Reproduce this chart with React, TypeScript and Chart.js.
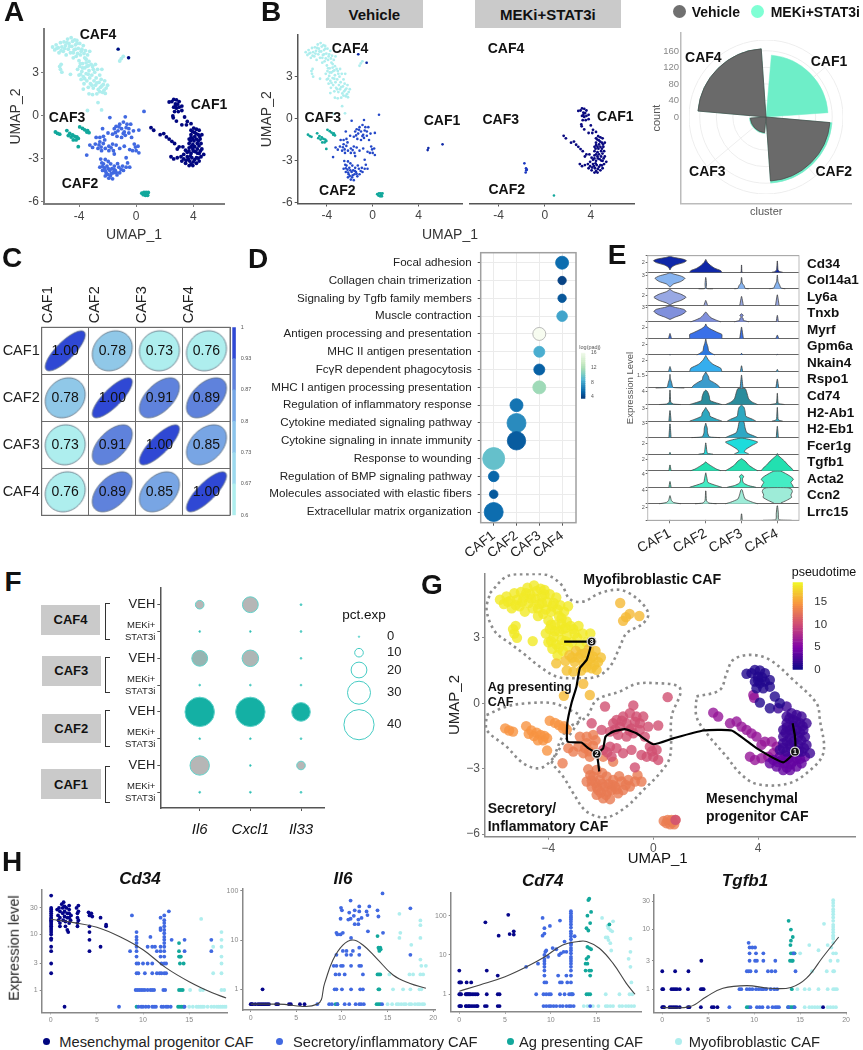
import React, { useEffect, useRef } from "react";
import { Chart, registerables } from "chart.js";
Chart.register(...registerables);

const FONT = '"Liberation Sans", Arial, sans-serif';
Chart.defaults.font.family = FONT;

type P = number[];
const col = (x: number, ys: number[]): P[] => ys.map((y) => [x, y]);
const row = (y: number, xs: number[]): P[] => xs.map((x) => [x, y]);
const xy = (a: P[]) => a.map((p) => ({ x: p[0], y: p[1] }));
const shift = (a: P[], dx: number, dy: number): P[] => a.map((p) => [p[0] + dx, p[1] + dy]);

const caf4Late: P[] = [[-5.85,4.75],[-5.7,4.55],[-5.6,4.9],[-5.45,4.7],[-5.4,4.35],[-5.3,5.05],[-5.2,4.75],[-5.1,4.45],[-5.05,5.1],[-4.95,4.85],[-4.9,4.2],[-4.8,5.3],[-4.75,4.6],[-4.7,5.0],[-4.6,4.35],[-4.55,5.4],[-4.5,4.8],[-4.45,5.15],[-4.4,4.0],[-4.35,4.55],[-4.3,5.25],[-4.25,4.9],[-4.15,5.0],[-4.1,4.3],[-4.05,4.65],[-4.0,3.8],[-3.95,5.0],[-3.9,4.2],[-3.8,4.6],[-3.75,3.6],[-3.7,4.85],[-3.6,4.0],[-3.55,4.5],[-3.45,3.4],[-3.4,4.2],[-3.3,3.75],[-3.25,4.45],[-5.35,3.4],[-5.3,3.2],[-5.2,3.0],[-5.25,3.55],[-4.6,2.85],[-4.1,3.2],[-4.0,2.8],[-3.95,3.4],[-3.85,2.5],[-3.8,3.05],[-3.7,2.7],[-3.65,2.2],[-3.6,3.3],[-3.5,2.9],[-3.45,2.4],[-3.3,3.1],[-3.25,2.6],[-3.1,2.8],[-3.05,3.4],[-2.9,3.0],[-2.8,2.6],[-2.7,3.2],[-2.55,2.8],[-2.4,3.2],[-3.15,3.55],[-2.85,3.55],[-3.5,3.65],[-5.55,4.65],[-5.25,4.5],[-5.0,4.65],[-4.85,5.05],[-4.65,4.8],[-4.4,4.35],[-4.25,4.6],[-4.2,4.1],[-4.15,5.2],[-3.85,4.45],[-3.65,4.3],[-3.5,3.9],[-3.9,3.6],[-3.75,3.3],[-3.35,3.45],[-3.35,2.85],[-3.0,3.2],[-3.6,2.55],[-3.9,2.85]];
const caf4Low: P[] = [[-3.35,1.95],[-3.7,1.83],[-3.2,2.2],[-3.3,1.5],[-3.0,1.9],[-2.95,2.4],[-2.85,2.1],[-2.65,1.8],[-2.6,2.3],[-2.5,1.95],[-2.45,2.5],[-2.35,1.6],[-2.3,2.15],[-2.25,1.75],[-2.2,2.4],[-2.16,1.53],[-2.1,1.9],[-2.0,2.1],[-3.05,1.45],[-2.75,1.5],[-3.1,2.1],[-2.75,2.25],[-2.4,2.05],[-2.55,1.65]];
const caf4Sparse: P[] = [[-2.67,0.89],[-2.42,0.38],[-3.41,0.34],[-1.15,3.78],[-1.04,3.95],[-0.9,4.1],[-1.26,4.6],[-0.53,4.0]];
const caf3Main: P[] = [[-5.65,-1.15],[-5.5,-1.25],[-5.35,-1.3],[-4.85,-1.05],[-4.75,-1.4],[-4.65,-1.25],[-4.55,-1.5],[-4.45,-1.35],[-4.4,-1.7],[-4.3,-1.45],[-4.2,-1.7],[-4.15,-1.5],[-4.05,-1.6],[-3.95,-0.8],[-3.75,-0.9],[-3.6,-1.0],[-3.45,-1.15],[-3.3,-1.2],[-3.4,-1.05],[-4.05,-2.17]];
const caf3Bottom: P[] = [[0.4,-5.4],[0.5,-5.5],[0.55,-5.35],[0.65,-5.55],[0.75,-5.45],[0.85,-5.35],[0.8,-5.55],[0.7,-5.35]];
const caf3Treated: P[] = [[0.8,-5.5]];
const caf2Upper: P[] = [[-1.84,-0.15],[-0.76,-0.1],[-2.35,-0.92],[-1.4,-0.76],[-1.15,-0.61],[-0.89,-0.46],[-0.64,-0.61],[-0.51,-0.92],[-1.02,-0.92],[-1.27,-1.07],[-1.53,-0.92],[-0.38,-0.61],[-1.97,-1.22],[-1.65,-1.3],[-1.34,-1.45],[-1.02,-1.53],[-0.76,-1.38],[-0.51,-1.22],[-0.19,-1.07],[0.19,-1.02],[-0.83,-1.15],[-0.32,-1.53],[-0.13,-1.99],[0.13,-2.14],[0,-2.45],[-0.25,-2.45],[-0.45,-2.37],[0.19,-2.6],[-0.83,-2.14],[-1.15,-2.29],[-1.4,-2.06],[-1.65,-1.99],[-1.91,-2.14],[-1.59,-2.45],[-0.7,-2.94],[0.55,0.28],[-0.7,-0.85],[-1.2,-0.8],[-0.9,-1.25],[-1.45,-1.2],[-0.05,-2.2],[-1.75,-2.25]];
const caf2Mid: P[] = [[-2.54,-1.53],[-2.8,-1.53],[-2.54,-1.83],[-2.29,-1.45],[-2.86,-1.99],[-3.24,-2.06],[-3.05,-2.22],[-2.67,-2.29],[-2.42,-2.45],[-2.16,-2.29],[-1.91,-2.45],[-3.46,-2.75],[-2.3,-1.95],[-2.6,-2.05],[-2.45,-2.2],[-2.2,-1.7]];
const caf2Lower: P[] = [[-2.48,-3.03],[-2.16,-3.06],[-2.54,-3.59],[-2.29,-3.36],[-2.04,-3.52],[-1.78,-3.36],[-1.53,-3.52],[-2.35,-3.82],[-2.1,-3.98],[-1.84,-3.82],[-1.59,-3.98],[-1.91,-4.36],[-1.65,-4.4],[-2.16,-4.2],[-1.34,-4.13],[-1.21,-3.59],[-0.95,-3.52],[-0.7,-3.59],[-0.45,-3.59],[-0.89,-3.82],[-1.15,-3.98],[-1.46,-3.82],[-1.53,-2.68],[-2.4,-3.3],[-2.2,-3.65],[-1.95,-3.2],[-1.7,-3.7],[-1.3,-3.35],[-1.05,-3.75],[-0.6,-3.3],[-2.0,-4.1],[-1.8,-4.2],[-2.35,-3.55],[-2.15,-3.85],[-1.95,-3.7],[-1.75,-4.05],[-1.55,-3.75],[-1.4,-3.95]];
const caf2Treated: P[] = [[-1.76,-3.2],[-1.62,-3.55],[-1.6,-3.7],[-1.65,-3.85],[-1.55,-3.65]];
const caf1Top: P[] = [[3.56,1.35],[3.75,1.38],[3.88,1.53],[4.07,1.5],[4.26,1.38],[4.0,1.22],[3.88,0.99],[4.07,0.92],[4.26,0.99],[4.45,1.07],[3.94,0.69],[4.2,0.69],[4.45,0.76],[4.07,0.03],[4.45,-0.23],[4.64,0.31],[4.83,0],[4.0,1.05],[4.15,1.2]];
const caf1Right: P[] = [[4.77,-0.23],[5.09,-0.15],[5.28,-0.46],[5.47,-0.54],[5.66,-0.61],[5.09,-0.61],[5.34,-0.76],[5.6,-0.92],[5.85,-0.92],[5.09,-0.92],[4.96,-1.22],[5.22,-1.22],[5.47,-1.22],[5.73,-1.22],[4.96,-1.53],[5.22,-1.6],[5.53,-1.53],[5.79,-1.53],[4.96,-1.83],[5.22,-1.91],[5.53,-1.91],[5.85,-1.91],[4.83,-2.14],[5.09,-2.22],[5.66,-2.22],[5.98,-2.29],[5.3,-1.35],[5.4,-2.1],[5.65,-1.7],[5.1,-1.75],[5.2,-0.7],[5.45,-0.85],[5.7,-1.05],[5.1,-1.1],[5.35,-1.05],[5.6,-1.35],[5.05,-1.35],[5.35,-1.75],[5.75,-2.05],[4.95,-2.05],[5.25,-2.05],[5.55,-2.2]];
const caf1Low: P[] = [[4.83,-2.45],[5.15,-2.52],[5.47,-2.52],[5.79,-2.45],[4.58,-2.6],[4.71,-2.9],[4.96,-3.06],[5.22,-3.06],[5.47,-2.9],[5.66,-2.75],[4.45,-2.75],[5.0,-2.75],[5.25,-2.8],[4.9,-2.6],[5.1,-2.95],[5.35,-2.65],[5.6,-2.55],[4.75,-2.7],[5.05,-2.4]];
const caf1Arm: P[] = [[2.29,-0.43],[2.48,-0.61],[2.93,-0.92],[3.18,-0.84],[3.37,-1.07],[3.56,-1.22],[3.75,-1.38],[3.94,-1.53],[4.26,-1.76],[4.52,-1.76],[4.13,-1.91],[3.69,-2.45],[3.88,-2.6],[4.13,-2.52],[4.39,-2.45],[4.58,-2.29],[4.71,-1.99],[3.82,0.38],[3.85,0.25]];
const caf1Vehicle: P[] = [[4.86,-2.1],[4.8,-2.25],[6.1,-1.84]];
const caf1All = [...caf1Top, ...caf1Right, ...caf1Low, ...caf1Arm];
const caf4All = [...caf4Late, ...caf4Low, ...caf4Sparse];
const caf3All = [...caf3Main, ...caf3Bottom];
const caf2All = [...caf2Upper, ...caf2Mid, ...caf2Lower];

const hullMyo: P[] = [[-6.23,5.05],[-5.6,5.81],[-4.83,5.92],[-4.07,5.89],[-3.5,5.43],[-3.18,4.77],[-2.67,4.66],[-2.04,5.05],[-1.27,5.2],[-0.64,4.82],[-0.19,4.13],[-0.38,3.67],[-1.02,3.21],[-1.27,2.6],[-1.65,1.68],[-2.16,1.22],[-3.05,1.15],[-3.69,1.22],[-4.33,1.68],[-4.96,2.29],[-5.47,2.75],[-6.04,3.29],[-6.36,4.28],[-6.23,5.05]];
const hullAg: P[] = [[-6.36,-0.54],[-5.6,-0.15],[-4.83,0],[-3.82,0],[-3.18,-0.31],[-2.8,-0.61],[-3.05,-1.22],[-3.44,-1.83],[-3.82,-2.52],[-4.33,-2.98],[-4.96,-2.75],[-5.6,-1.99],[-6.36,-1.22],[-6.36,-0.54]];
const hullSec: P[] = [[-3.88,-2.75],[-3.31,-1.22],[-2.54,-0.61],[-2.16,0.15],[-1.27,0.54],[-0.64,0.89],[0.13,0.92],[0.95,0.79],[1.04,0.46],[0.7,-0.61],[0.64,-2.45],[0.25,-3.21],[-0.38,-3.98],[-1.02,-4.74],[-1.78,-5.23],[-2.54,-4.97],[-3.05,-4.13],[-3.44,-3.36],[-3.88,-2.75]];
const hullMes: P[] = [[1.65,0.31],[2.54,0.61],[2.8,1.38],[3.05,1.99],[3.69,2.22],[4.45,1.99],[5.34,1.07],[6.23,0],[6.36,-0.76],[6.49,-2.29],[5.85,-3.21],[5.09,-3.7],[3.94,-3.7],[3.31,-3.21],[2.8,-2.45],[2.04,-1.38],[1.65,-0.61],[1.65,0.31]];
const trajectoryA: P[] = [[-3.4,2.83],[-2.35,2.83]];
const trajectoryB: P[] = [[-2.35,2.83],[-2.42,2.45],[-2.54,1.99],[-2.8,1.61],[-2.93,0.76],[-3.12,0],[-3.28,-0.92],[-3.27,-1.76],[-2.74,-1.8],[-2.48,-2.06],[-2.16,-2.32],[-2.06,-3.13]];
const trajectoryC: P[] = [[-2.16,-2.32],[-1.91,-2.06],[-1.82,-1.53],[-1.53,-1.3],[-1.08,-1.19],[-0.64,-1.38],[0,-1.88],[0.76,-1.61],[1.91,-1.25],[2.99,-1.25],[3.94,-2.06],[4.96,-2.71],[5.41,-2.22],[5.41,-1.53],[5.32,-0.92]];
const trajectoryNodes: P[] = [[5.41,-2.22],[-2.16,-2.32],[-2.35,2.83]];
const nodeNames = ["1", "2", "3"];

/* ---------- polar counts ---------- */
const polarClusters = ["CAF1", "", "CAF2", "", "CAF3", "", "CAF4", ""];
const vehicleCount = [0, 0, 155, 0, 38, 0, 165, 0];
const treatedCount = [150, 0, 5, 0, 2, 0, 0, 0];

/* ---------- correlation ---------- */
const cafNames = ["CAF1", "CAF2", "CAF3", "CAF4"];
const corrCAF1 = [1.0, 0.78, 0.73, 0.76];
const corrCAF2 = [0.78, 1.0, 0.91, 0.89];
const corrCAF3 = [0.73, 0.91, 1.0, 0.85];
const corrCAF4 = [0.76, 0.89, 0.85, 1.0];
const corrTicks = [0.6, 0.6667, 0.7333, 0.8, 0.8667, 0.9333, 1];
const corrTickNames = ["0.6", "0.67", "0.73", "0.8", "0.87", "0.93", "1"];
const corrBandColors = ["#aeeeee", "#9cd9ee", "#8cc4ec", "#76a6e6", "#5f82dc", "#2f48d4"];

/* ---------- pathway dot plot ---------- */
const pathways = ["Focal adhesion","Collagen chain trimerization","Signaling by Tgfb family members","Muscle contraction","Antigen processing and presentation","MHC II antigen presentation","FcγR dependent phagocytosis","MHC I antigen processing presentation","Regulation of inflammatory response","Cytokine mediated signaling pathway","Cytokine signaling in innate immunity","Response to wounding","Regulation of BMP signaling pathway","Molecules associated with elastic fibers","Extracellular matrix organization"];
const pathwayCluster = [4,4,4,4,3,3,3,3,2,2,2,1,1,1,1];
const pathwayCount = [13,8.4,8.4,10.6,13,11,11,13,13,19,18.4,22,10.6,8.6,19];
const pathwayLogP = [5.3,3.6,4.4,7.6,16,8,4.8,11,5.6,6.6,4.6,9,5,4.5,5.3];
const gnbu = ["#084081","#0868ac","#2b8cbe","#4eb3d3","#7bccc4","#a8ddb5","#ccebc5","#e0f3db","#f7fcf0"];

/* ---------- violin profiles: [height in row, half width] ---------- */
const genes = ["Cd34","Col14a1","Ly6a","Tnxb","Myrf","Gpm6a","Nkain4","Rspo1","Cd74","H2-Ab1","H2-Eb1","Fcer1g","Tgfb1","Acta2","Ccn2","Lrrc15"];
const geneColors = ["#0f27a8","#87b4f0","#98a8e4","#8090dc","#3a70e8","#2c78e0","#35aeee","#3c9ccc","#2a8c9c","#2ca8c0","#30a8c4","#1ddcdc","#22e0b0","#44ecc4","#9eecd8","#a8d8c8"];
const exprTickNames = ["2","3","2","3","2","2","2","1.5","4","3","3","2","2","4","4","2"];
const exprTickPos = [0.58,0.8,0.62,0.85,0.64,0.64,0.64,0.77,0.79,0.75,0.85,0.66,0.7,0.8,0.79,0.79];
const violinCd34 = [[[0.14,0],[0.3,0.04],[0.45,0.15],[0.6,0.38],[0.72,0.46],[0.82,0.36],[0.92,0.12],[1,0]],[[0,0.45],[0.1,0.42],[0.25,0.25],[0.45,0.12],[0.6,0.05],[0.8,0]],[[0,0.03],[0.02,0.01],[0.45,0.003]],[[0,0.15],[0.05,0.06],[0.15,0.02],[0.7,0.003]]];
const violinCol14a1 = [[[0.1,0],[0.3,0.1],[0.45,0.3],[0.65,0.42],[0.8,0.3],[0.92,0.1],[1,0]],[[0,0.2],[0.02,0.02],[0.3,0.02],[0.7,0.004]],[[0,0.2],[0.03,0.1],[0.2,0.07],[0.35,0.02],[0.7,0.004]],[[0,0.22],[0.05,0.1],[0.2,0.07],[0.45,0.02],[0.85,0.003]]];
const violinLy6a = [[[0.02,0],[0.15,0.1],[0.3,0.3],[0.5,0.45],[0.7,0.3],[0.85,0.1],[1,0]],[[0,0.05],[0.3,0.004]],[[0,0.05],[0.55,0.004]],[[0,0.05],[0.65,0.004]]];
const violinTnxb = [[[0.15,0],[0.3,0.15],[0.45,0.33],[0.65,0.45],[0.78,0.38],[0.9,0.15],[1,0]],[[0,0.42],[0.1,0.3],[0.25,0.15],[0.4,0.08],[0.6,0.01]],[[0,0.2],[0.1,0.05],[0.2,0.05],[0.3,0.005],[0.4,0.05],[0.5,0.005]],[[0,0.03],[0.4,0.004]]];
const violinMyrf = [[[0,0.04],[0.3,0.004]],[[0,0.45],[0.25,0.45],[0.35,0.35],[0.6,0.12],[0.75,0.03],[0.9,0]],[[0,0.05],[0.7,0.003]],[[0,0.04],[0.2,0.004]]];
const violinGpm6a = [[[0,0.02],[0.03,0.002]],[[0,0.25],[0.08,0.18],[0.25,0.08],[0.5,0.06],[0.7,0.03],[1,0]],[[0,0.03],[0.1,0.003]],[[0,0.02],[0.03,0.002]]];
const violinNkain4 = [[[0,0.04],[0.3,0.004]],[[0,0.45],[0.2,0.42],[0.45,0.2],[0.7,0.08],[1,0]],[[0,0.03],[0.35,0.004]],[[0,0.03],[0.12,0.004]]];
const violinRspo1 = [[[0,0.4],[0.03,0.1],[0.1,0.07],[0.3,0.05],[0.6,0.01],[0.85,0]],[[0,0.4],[0.15,0.35],[0.35,0.22],[0.5,0.1],[0.7,0.08],[1,0]],[[0,0.04],[0.8,0.003]],[[0,0.04],[0.55,0.004]]];
const violinCd74 = [[[0,0.3],[0.03,0.1],[0.1,0.05],[0.15,0.02],[0.9,0.003]],[[0,0.45],[0.1,0.3],[0.25,0.12],[0.5,0.1],[0.8,0.05],[0.9,0]],[[0,0.45],[0.15,0.3],[0.35,0.2],[0.8,0.14],[1,0.1]],[[0,0.2],[0.05,0.06],[0.1,0.02],[0.7,0.003]]];
const violinH2Ab1 = [[[0,0.03],[0.65,0.004]],[[0,0.45],[0.12,0.3],[0.3,0.12],[0.5,0.1],[0.7,0.04],[0.85,0]],[[0,0.4],[0.12,0.3],[0.3,0.12],[0.6,0.1],[0.85,0.07],[1,0]],[[0,0.15],[0.05,0.05],[0.15,0.02],[0.85,0.003]]];
const violinH2Eb1 = [[[0,0.03],[0.85,0.004]],[[0,0.4],[0.05,0.1],[0.3,0.05],[0.6,0.04],[0.9,0]],[[0,0.45],[0.1,0.35],[0.3,0.15],[0.6,0.1],[1,0.06]],[[0,0.03],[0.7,0.003]]];
const violinFcer1g = [[[0,0.02],[0.1,0.005]],[[0,0.2],[0.05,0.05],[0.2,0.03],[0.7,0.003]],[[0.02,0.2],[0.15,0.08],[0.3,0.12],[0.55,0.3],[0.75,0.45],[0.9,0.25],[1,0.03]],[[0,0.02],[0.03,0.002]]];
const violinTgfb1 = [[[0,0.03],[0.35,0.004]],[[0,0.42],[0.1,0.3],[0.3,0.15],[0.45,0.05],[0.55,0]],[[0,0.45],[0.15,0.33],[0.35,0.2],[0.6,0.1],[0.75,0]],[[0,0.45],[0.15,0.4],[0.35,0.3],[0.6,0.2],[0.9,0.05],[1,0]]];
const violinActa2 = [[[0,0.03],[0.35,0.004]],[[0,0.45],[0.1,0.3],[0.3,0.06],[0.6,0.03],[0.9,0]],[[0,0.4],[0.1,0.2],[0.25,0.06],[0.4,0.03],[0.55,0.03],[0.65,0.06],[0.75,0.03],[0.8,0]],[[0,0.45],[0.15,0.42],[0.3,0.38],[0.5,0.45],[0.7,0.35],[1,0.1]]];
const violinCcn2 = [[[0,0.3],[0.08,0.1],[0.2,0.04],[0.5,0.005]],[[0,0.3],[0.05,0.08],[0.2,0.02],[0.8,0.004]],[[0,0.45],[0.1,0.3],[0.3,0.1],[0.6,0.05],[0.85,0.02],[0.9,0]],[[0.05,0.1],[0.2,0.25],[0.4,0.4],[0.55,0.38],[0.75,0.42],[0.9,0.4],[1,0.3]]];
const violinLrrc15 = [[[0,0.01],[0.02,0.002]],[[0,0.01],[0.02,0.002]],[[0,0.02],[0.4,0.004]],[[0,0.4],[0.03,0.05],[0.15,0.03],[0.4,0.03],[0.9,0.006]]];
const violins = [violinCd34,violinCol14a1,violinLy6a,violinTnxb,violinMyrf,violinGpm6a,violinNkain4,violinRspo1,violinCd74,violinH2Ab1,violinH2Eb1,violinFcer1g,violinTgfb1,violinActa2,violinCcn2,violinLrrc15];

/* ---------- cytokine dot plot ---------- */
const fGenes = ["Il6", "Cxcl1", "Il33"];
const fRows = ["VEH", ["MEKi+", "STAT3i"], "VEH", ["MEKi+", "STAT3i"], "VEH", ["MEKi+", "STAT3i"], "VEH", ["MEKi+", "STAT3i"]];
const il6Pct = [10, 0.5, 20, 0.5, 39, 0.5, 25, 0.7];
const cxcl1Pct = [20, 0.5, 21, 0.5, 39, 0.5, 0.5, 0.7];
const il33Pct = [0.7, 0.5, 0.5, 0.5, 24, 0.5, 10, 0.7];
const il6Level = [0, 1, 0.2, 1, 1, 1, 0, 1];
const cxcl1Level = [0, 1, 0.05, 1, 1, 1, 1, 1];
const il33Level = [1, 1, 1, 1, 1, 1, 0, 1];
const pctLegend = [0, 10, 20, 30, 40];
const pctLegendRow = [0, 16, 33.3, 56, 88];

/* ---------- gene vs pseudotime ---------- */
const cd34Curve: P[] = [[0,18.7],[2.5,16.3],[5,13.5],[7.5,9.1],[10,5.3],[12.5,2.5],[15,1.41],[17.5,0.89],[19,0.72]];
const il6Curve: P[] = [[0,0.5],[3,0.5],[7.3,0.5],[8.1,1.32],[9,3.9],[10.1,7.9],[11.2,10],[12.3,7.9],[13.8,4.25],[15.6,1.95],[17.4,1.32],[19.2,1.05]];
const cd74Curve: P[] = [[0,1.2],[2.25,1.73],[5,2.8],[7.35,5],[9.35,9],[11.3,18],[13,22],[13.9,22],[15.3,14.8],[16.8,6.1],[18.25,1.9],[19.2,1]];
const tgfb1Curve: P[] = [[0,0.49],[3,0.51],[4.8,0.75],[6.6,1.04],[9.2,1.15],[11.7,1.04],[14,1.07],[15.7,1.53],[17.5,3.5],[19.2,7.5]];

const cd34Mes: P[] = [...col(0.05,[50,30,28,26,24,22,20,19,18,17,16,15,14,13,12,11,10,8.5,8,6,5,3,2]),[0.7,28],[0.8,22],[0.85,18],[0.9,30],[1,26],[1,20],[1,16],[1,14],[1.2,35],[1.3,30],[1.3,24],[1.35,18],[1.4,38],[1.5,32],[1.5,26],[1.5,21],[1.6,17],[1.6,14],[1.7,30],[1.8,24],[1.8,20],[1.8,12],[1.9,11],[2,33],[2,28],[2,24],[2,20],[2,16],[2.15,18],[2.2,22],[2.8,30],[2.9,24],[2.9,20],[2.9,16],[2.9,14],[3,33],[3,26],[3,18],[4.1,25],[4.2,22],[4.2,14],[4.2,11],[4.2,8],[4.2,5],[4.4,24],[4.5,21],[5.4,20],[5.4,6],[6,15],[6,14],[1.5,0.5]];
const cd34Sec: P[] = [[8.8,22],[8.6,5],[7.4,0.5],...col(9.3,[11,9,8,7,6,5,4]),...row(3,[9.3,9.5,10,10.5,11,12,12.3,12.5]),...row(2,[9.3,9.5,10.2,11,11.5,11.8,12,12.3,12.5]),...row(1,[9.2,9.4,9.6,9.8,10,10.2,10.5,10.8,11,11.2,12.2,12.4]),...row(0.5,[9.5,9.8,10,10.3,10.6,11,11.2,11.4,12,12.2,12.5,12.7,13,14.5]),...col(12.3,[22,18,16,14,12,10.5,9,8,7,6,5,4]),...col(11.9,[20,13,12,6,5,4]),[12.8,26],[13.1,8],[10.8,9],[10.5,6],[11,6],[11.3,6],[11.5,5],[14.5,8],[14.5,5],[17.4,8],[17.4,5]];
const cd34Ag: P[] = [[13.9,7],[13.9,5],[13.9,4],[14,4],[14.1,4],[14,3],[14.4,3],[13.9,1],[14.1,1],[14.3,1],[13.8,0.5],[14,0.5],[14.2,0.5],[14.4,0.5],[9.3,0.5]];
const cd34Myo: P[] = [[16.3,19],[17.6,6],[18.5,11],[18.5,8],[18.5,6],[18.5,4],[18.5,3],[17.6,2],[18.5,2],[15.1,1],[16.2,1],[16.5,1],[18.5,1],[18.8,1],...row(0.5,[15,15.4,15.8,16,16.2,16.4,16.6,17,17.4,17.7,18,18.2,18.4,18.6,18.8,19])];

const il6Mes: P[] = [[1.3,1],...row(0.5,[0,0.1,0.2,0.5,0.8,1,1.2,1.4,1.6,1.8,2,2.8,3,4.2,4.4,5.4,5.9])];
const il6Sec: P[] = [[14.45,88],[10.95,63],[9.9,45],[10,40],[10.8,36],[11.4,40],[11.9,48],[13,48],[12.7,38],[12.8,32],[13.9,40],[14,30],[11.9,38],[11.3,31],[10.95,27],[9.85,27],[10.7,26],[12.15,28],[11.8,26],[11.4,21],[11.8,21],[9.4,14],[9.5,13],[9.85,13],[10.1,14],[11,11],[12.85,15],[14.5,14],[11.9,7],[10.1,6],[10.5,6],[11.2,6],[9.4,5],[10.5,5],[11,5],[11.9,5],[17.5,44],[17.5,5],...row(3,[9.1,9.4,9.9,10.1,11,11.9,12.1]),...row(2,[9.3,9.7,10.3,12.3]),...row(1,[9.2,9.4,10,11,12,12.3]),...row(0.5,[7.3,8.6,8.9,9.5,10.3,10.8,11.5,11.9,12.1,12.4,14.4])];
const il6Ag: P[] = [[13.9,12],[14,7],[14.1,6.5],[14.2,7],[14.1,6],[14.25,6.5],[14.05,2],[14.2,2],[13.9,2],[14,1],[14.1,1],[13.8,0.5],[14,0.5],[14.2,0.5],[9.3,0.5],[9.5,0.5]];
const il6Myo: P[] = [[16.3,34],[16.4,14],[16.3,11],[18.6,25],[18.6,20],[18.6,11],[17.6,8],[18.6,4],[18.7,3],[19.2,3],[15.2,2],[17.4,2],[17.8,2],[18.6,2],[18.9,2],[15.6,1],[16.7,1],[17.5,1],[18.5,1],[18.7,1],...row(0.5,[15,15.5,16,16.2,16.5,16.8,17,17.4,17.6,18,18.3,18.5,18.8,19])];

const cd74Mes: P[] = [[5.35,105],[2.85,68],[5.5,34],[5.95,40],[5.95,33],[4.3,31],[0,4],[3,4],[4.2,3],...row(2,[0,0.1,0.2,0.8,1.3]),...row(1,[0,0.1,0.2,0.7,0.8,0.9,1,1.1,1.2,1.4,1.6,1.8,2,3,4.2,4.4]),...row(0.5,[0,0.1,0.2,0.7,0.8,1,1.1,1.3,1.5,1.7,1.9,2,2.8,3,4.2,4.4])];
const cd74Sec: P[] = [[7.3,5],[8.6,6],[9.1,88],[9.3,48],[9.3,35],[9.1,31],[9.9,55],[11,75],[11.5,22],[9.3,10],[9.4,12],[9.5,13],[9.7,9],[10.2,15],[10.6,14],[10.9,10],[11.1,11],[11.4,12],[11.7,12],[12.6,30],...col(12.2,[130,115,100,90,80,70,60,50,40,35,30,25,20,18,15,13,11,9,8,7,6,5,4,3,2]),...col(9.3,[8,7,6,5,4,3,2]),[9.5,2],[10.8,3],[11,2],[11.2,2],[11.7,3],[11.8,2],...row(1,[8.4,9.2,9.5,9.8,10,11,11.5,12,12.2,12.4]),...row(0.5,[9.2,9.5,9.8,10,10.3,10.6,11,11.3,11.7,12,12.2,12.5,14.3])];
const cd74Ag: P[] = [[14.2,270],[14.1,250],[14.4,125],[14,100],[14.3,65],[16.4,60],[13.9,48],[14.1,42],[14,16],[14.2,15],[14.4,14],[14.1,9],[13.9,8],[13.8,6],[14,6],[13.8,4],[14.2,4],[14.3,3],[14.4,4],[12.3,1],[13.9,1],[14.1,1],[14.3,1]];
const cd74Myo: P[] = [[15.6,88],[16.8,72],[16.2,55],[16.3,48],[16.5,43],[16.7,40],[16,28],[16.2,28],[16.3,24],[16.5,20],[16.6,13],[18.7,26],[18.7,12],[18.5,8],[18.7,5],[18.8,2],[16,1],[17.5,1],[18.6,1],[18.9,1],...row(0.5,[13.6,14,14.6,15.2,16,16.2,16.5,16.8,17.5,17.8,18.2,18.5,18.8,19.1])];

const tgfb1Mes: P[] = [[0,2],[1.4,2],[2.85,2],[4.25,3],...row(1,[0,0.1,1,1.2,1.4,1.6,1.9,2.8,4.2,4.35,4.5]),...row(0.5,[0,0.1,0.2,0.8,1,1.2,1.4,1.6,1.9,2.8,2.95,4.2,5.4,5.6,6,17.5])];
const tgfb1Sec: P[] = [[9.4,6],[9.5,5],[9.8,5],[10.1,5],[9.5,4],[10.2,4],[11,4],[14.3,4],[14.5,2],...row(3,[9.5,10.1,10.3,11,12.3]),...row(2,[9.2,9.4,9.6,10.2,11.5,11.9,12.3]),...row(1,[8.4,8.6,9.2,9.5,9.8,10.2,10.5,10.8,11,11.3,11.8,12.2,12.5]),...row(0.5,[7.3,9.6,10.3,10.6,10.9,11.5,12,12.3,12.5,12.7,13.7,14.4])];
const tgfb1Ag: P[] = [[13.75,14],[14,10],[14.2,7.5],[14,6.5],[13.95,5.5],[14,4],[14.2,4],[14.4,4],[13.9,3],[14.1,3],[14.2,3],[14.1,1],[13.7,0.5],[13.9,0.5],[14.1,0.5],[14.3,0.5],[9.2,0.5],[9.4,0.5]];
const tgfb1Myo: P[] = [[17.6,12.5],[16,5.5],[17,4.5],[18,5.5],...col(18.6,[31,28,25,22,20,18,16,14,12,11,10,9,8,7.5,7,6,4,2,1]),[18.4,5],[18.9,4],[15,4],[19.1,3],[18.3,3],[16.3,2],[17.9,2],[18.7,2],[14.7,1],[15.5,1],[16,1],[17,1],[18,1],[18.8,1],[19,1],...row(0.5,[15.5,16,16.3,16.6,16.9,17.2,18,18.3,18.6,18.9])];

/* ---------- colours ---------- */
const C1 = "#00067f", C2 = "#4169e1", C3 = "#12a89c", C4 = "#afeeee";
const stops = (list: string[], f: number) => {
  const p = Math.max(0, Math.min(1, f)) * (list.length - 1);
  const i = Math.min(list.length - 2, Math.floor(p));
  const a = list[i], b = list[i + 1], t = p - i;
  const ch = (s: string, k: number) => parseInt(s.slice(1 + k * 2, 3 + k * 2), 16);
  return "#" + [0, 1, 2].map((k) => Math.round(ch(a, k) * (1 - t) + ch(b, k) * t).toString(16).padStart(2, "0")).join("");
};
const plasmaStops = ["#0d0887","#7e03a8","#cc4778","#f89540","#f0f921"];
const plasma = (t: number) => stops(plasmaStops, t / 19.3);
const withAlpha = (hex: string, al: number) => hex + Math.round(al * 255).toString(16).padStart(2, "0");

/* ---------- helpers ---------- */
type R = { l: number; t: number; r: number; b: number };
function ax(pos: string, o: any = {}) {
  const s: any = {
    type: o.type || "linear", position: o.pos || pos, min: o.min, max: o.max, reverse: !!o.rev, offset: !!o.offset,
    display: o.display !== false,
    afterBuildTicks: o.at ? (sc: any) => { sc.ticks = o.at.map((v: number) => ({ value: v })); } : undefined,
    border: { display: (o.bw ?? 1) > 0, color: o.bc || "#666", width: o.bw ?? 1 },
    grid: { display: true, drawOnChartArea: !!o.gridOn, drawTicks: (o.tl ?? 3) > 0, tickLength: o.tl ?? 3, color: o.gridColor || o.bc || "#666", tickColor: o.bc || "#666", lineWidth: o.gridW ?? 1, offset: !!o.gridOffset },
    ticks: { display: o.noLabels ? false : true, autoSkip: false, maxRotation: o.rot || 0, minRotation: o.rot || 0, includeBounds: false, font: o.font || { family: FONT, size: o.fs || 11, weight: o.fw, style: o.fstyle }, color: o.tc || "#555", padding: o.pad ?? 2, callback: o.cb || ((v: any) => String(v)) },
    title: o.title ? { display: true, text: o.title, font: { family: FONT, size: o.tfs || 13 }, color: o.ttc || "#222", padding: 0 } : { display: false },
  };
  if (o.labels) s.labels = o.labels;
  return s;
}
const textPlugin = {
  id: "pointText",
  afterDatasetsDraw(chart: any) {
    const { ctx } = chart;
    chart.data.datasets.forEach((d: any, i: number) => {
      if (!d.texts) return;
      chart.getDatasetMeta(i).data.forEach((el: any, j: number) => {
        ctx.save();
        ctx.font = d.textFont; ctx.fillStyle = d.textColor; ctx.textAlign = "center"; ctx.textBaseline = "middle";
        ctx.fillText(d.texts[j], el.x, el.y + 0.5);
        ctx.restore();
      });
    });
  },
};
const framePlugin = {
  id: "frame",
  afterDraw(chart: any, _a: any, o: any) {
    if (!o || !o.color) return;
    const { ctx, chartArea: c } = chart;
    ctx.save(); ctx.strokeStyle = o.color; ctx.lineWidth = o.width || 1;
    ctx.strokeRect(c.left, c.top, c.right - c.left, c.bottom - c.top);
    ctx.restore();
  },
};
const SIDE_ROOM = 28;
function mk(type: string, rect0: R, plot: R, datasets: any[], scales: any, frame?: any, labels?: any[]) {
  const rect = { ...rect0 };
  const taken: any = {};
  Object.values(scales).forEach((s: any) => { if (s.display !== false) taken[s.position] = true; });
  if (!taken.left) rect.l = Math.min(rect.l, plot.l - SIDE_ROOM);
  if (!taken.right) rect.r = Math.max(rect.r, plot.r + SIDE_ROOM);
  if (!taken.top) rect.t = Math.min(rect.t, plot.t - SIDE_ROOM);
  if (!taken.bottom) rect.b = Math.max(rect.b, plot.b + SIDE_ROOM);
  rect.l = Math.round(rect.l); rect.t = Math.round(rect.t); rect.r = Math.round(rect.r); rect.b = Math.round(rect.b);
  const side: any = { left: plot.l - rect.l, right: rect.r - plot.r, top: plot.t - rect.t, bottom: rect.b - plot.b };
  const pad: any = { ...side };
  Object.values(scales).forEach((s: any) => {
    if (s.display === false) return;
    const size = side[s.position];
    pad[s.position] = 0;
    s.afterFit = (sc: any) => { if (s.position === "left" || s.position === "right") sc.width = size; else sc.height = size; };
  });
  return {
    rect,
    cfg: {
      type,
      data: { labels, datasets },
      plugins: [textPlugin, framePlugin],
      options: {
        responsive: false, animation: false, maintainAspectRatio: false,
        layout: { autoPadding: false, padding: pad },
        plugins: { legend: { display: false }, tooltip: { enabled: false }, frame },
        scales,
      },
    },
  };
}
const dots = (a: P[], color: string, r: number) => ({ data: xy(a), backgroundColor: color, borderWidth: 0, pointRadius: r, pointHoverRadius: r });
const line = (a: P[], color: string, w: number, tension = 0, dash?: number[]) => ({ data: xy(a), showLine: true, borderColor: color, backgroundColor: color, borderWidth: w, pointRadius: 0, tension, borderDash: dash, fill: false });

function colorBar(rect: R, plot: R, edges: number[], colors: string[], at: number[], cb: any, fs: number, tc: string) {
  const ds = colors.map((c, i) => ({ data: [[edges[i], edges[i + 1]]], backgroundColor: c, borderColor: c, borderWidth: 0, barPercentage: 1, categoryPercentage: 1, grouped: false }));
  return mk("bar", rect, plot, ds, {
    x: ax("bottom", { type: "category", display: false, tl: 0 }),
    y: ax("right", { min: edges[0], max: edges[edges.length - 1], at, cb, fs, tc, bw: 0, tl: 0, pad: 2 }),
  }, undefined, [""]);
}

function ellipseImage(value: number, color: string) {
  const c = document.createElement("canvas");
  c.width = 44; c.height = 44;
  const g = c.getContext("2d")!;
  const shape = Math.max(0, (value - 0.72) / 0.28) * 0.8;
  const d = Math.acos(shape);
  g.beginPath();
  for (let k = 0; k <= 72; k++) {
    const a = (k / 72) * Math.PI * 2;
    const px = 22 + 20 * Math.cos(a + d / 2);
    const py = 22 - 20 * Math.cos(a - d / 2);
    k ? g.lineTo(px, py) : g.moveTo(px, py);
  }
  g.closePath(); g.fillStyle = color; g.fill(); g.strokeStyle = "#5a6a78"; g.lineWidth = 0.8; g.stroke();
  return c;
}
const corrColor = (v: number) => v >= 0.93 ? "#2f48d4" : v >= 0.87 ? "#5f82dc" : v >= 0.8 ? "#78a5e4" : v >= 0.77 ? "#90c8e8" : "#aeeeee";

function hPanel(plot: R, xMin: number, xMax: number, yMin: number, yMax: number, yAt: number[], xAt: number[], curve: P[], mes: P[], sec: P[], ag: P[], myo: P[]) {
  const rect = { l: plot.l - 24, r: plot.r, t: plot.t, b: plot.b + 16 };
  return mk("scatter", rect, plot, [
    line(curve, "#444", 1.1, 0.4),
    dots(mes, "#05058a", 1.9), dots(sec, C2, 1.9), dots(ag, C3, 1.9), dots(myo, C4, 1.9),
  ], {
    x: ax("bottom", { min: xMin, max: xMax, at: xAt, fs: 7, tc: "#888", bc: "#888", bw: 1.5, tl: 2, pad: 2 }),
    y: ax("left", { type: "logarithmic", min: yMin, max: yMax, at: yAt, fs: 7, tc: "#888", bc: "#888", bw: 1.5, tl: 2, pad: 2 }),
  });
}

function buildPanels() {
  const panels: any[] = [];
  const umapAxisA = { bc: "#7d7d7d", bw: 2, tl: 3, tc: "#444", fs: 12, pad: 2 };

  /* A */
  panels.push(mk("scatter", { l: 8, t: 20, r: 228, b: 244 }, { l: 44, t: 29, r: 224, b: 204 }, [
    dots(caf4Sparse.slice(6), C1, 1.7),
    dots(shift(caf1All, -1.25, -0.42), C1, 1.9), dots(caf2All, C2, 1.9), dots(caf3All, C3, 1.9), dots(caf4All, C4, 1.9),
  ], {
    x: ax("bottom", { ...umapAxisA, min: -6.45, max: 6.15, at: [-4, 0, 4], title: "UMAP_1", tfs: 14, ttc: "#333" }),
    y: ax("left", { ...umapAxisA, min: -6.15, max: 6.0, at: [-6, -3, 0, 3], title: "UMAP_2", tfs: 14, ttc: "#333" }),
  }));

  /* B vehicle */
  const umapAxisB = { bc: "#555", bw: 1.5, tl: 3, tc: "#444", fs: 12, pad: 2 };
  panels.push(mk("scatter", { l: 259, t: 28, r: 463, b: 224 }, { l: 297.7, t: 35, r: 462, b: 203.5 }, [
    dots(caf4Sparse.slice(6), "#101ea0", 1.3), dots(caf1Vehicle, "#102aa8", 1.3), dots(caf2All, "#2448c8", 1.3), dots(caf3All, C3, 1.4), dots(caf4All, C4, 1.4),
  ], {
    x: ax("bottom", { ...umapAxisB, min: -6.55, max: 7.8, at: [-4, 0, 4] }),
    y: ax("left", { ...umapAxisB, min: -6.07, max: 5.98, at: [-6, -3, 0, 3], title: "UMAP_2", tfs: 14, ttc: "#333" }),
  }));

  /* B treated */
  panels.push(mk("scatter", { l: 470, t: 28, r: 636, b: 224 }, { l: 470, t: 35, r: 634, b: 203.5 }, [
    dots(shift(caf1All, -0.65, -0.8), "#0a0a80", 1.4), dots(caf2Treated, "#1c38c0", 1.3), dots(caf3Treated, C3, 1.3),
  ], {
    x: ax("bottom", { ...umapAxisB, min: -6.47, max: 7.73, at: [-4, 0, 4] }),
    y: ax("left", { display: false, min: -6.07, max: 5.98, tl: 0 }),
  }));

  /* polar axes */
  panels.push(mk("scatter", { l: 650, t: 25, r: 860, b: 219 }, { l: 681, t: 33, r: 851.5, b: 203.3 }, [], {
    x: ax("bottom", { min: 0, max: 1, at: [], bc: "#bbb", bw: 1.5, tl: 0, noLabels: true, title: "cluster", tfs: 11, ttc: "#555" }),
    y: ax("left", { min: -208, max: 204, at: [0, 40, 80, 120, 160], bc: "#bbb", bw: 1.5, tl: 0, fs: 9.5, tc: "#888", pad: 2, title: "count", tfs: 11, ttc: "#555" }),
  }));
  /* polar */
  const sectorAngles = [81, 9, 81, 9, 81, 9, 81, 9];
  const ringScale = {
    type: "radialLinear", min: 0, max: 186, startAngle: 5,
    ticks: { display: false, stepSize: 40 },
    pointLabels: { display: false },
    grid: { circular: true, color: "#eeeeee" },
    angleLines: { display: true, color: (c: any) => (c.index % 2 ? "#eeeeee" : "rgba(0,0,0,0)") },
  };
  panels.push({
    rect: { l: 689, t: 40, r: 843, b: 194 },
    cfg: {
      type: "polarArea",
      data: {
        labels: polarClusters,
        datasets: [
          { data: vehicleCount, backgroundColor: "#6a6a6a", borderColor: "#4c4c4c", borderWidth: 0.8, angle: sectorAngles },
          { data: vehicleCount.map((v, i) => v + treatedCount[i]), backgroundColor: "#6eeec8", borderColor: "#6eeec8", borderWidth: 0.5, angle: sectorAngles },
        ],
      },
      options: {
        responsive: false, animation: false,
        layout: { autoPadding: false, padding: 0 },
        plugins: { legend: { display: false }, tooltip: { enabled: false } },
        scales: { r: ringScale },
      },
    },
  });

  /* C */
  const corrRows = [corrCAF1, corrCAF2, corrCAF3, corrCAF4];
  const corrData: any[] = [], corrText: string[] = [], corrImg: any[] = [];
  corrRows.forEach((vals, r) => vals.forEach((v, c) => {
    corrData.push({ x: cafNames[c], y: cafNames[r] });
    corrText.push(v.toFixed(2));
    corrImg.push(ellipseImage(v, corrColor(v)));
  }));
  const catAx = { type: "category", labels: cafNames, offset: true, gridOffset: true, gridOn: true, bc: "#6c6c6c", gridColor: "#6c6c6c", tl: 0, fs: 14.5, tc: "#222", pad: 4, bw: 1, cb: (_v: any, i: number) => cafNames[i] };
  panels.push(mk("scatter", { l: 0, t: 270, r: 232, b: 517 }, { l: 41.7, t: 327.3, r: 230, b: 515.3 }, [
    { data: corrData, pointStyle: corrImg, pointRadius: 21, borderWidth: 0, backgroundColor: "#fff", texts: corrText, textFont: `14px ${FONT}`, textColor: "#111" },
  ], {
    x: ax("top", { ...catAx, rot: 90 }),
    y: ax("left", { ...catAx, pad: 2 }),
  }, { color: "#6c6c6c", width: 1 }));
  /* C colour bar */
  panels.push(colorBar({ l: 232, t: 322, r: 262, b: 520 }, { l: 232.3, t: 327.3, r: 238.7, b: 515.3 }, corrTicks, corrBandColors, corrTicks, (v: number) => corrTickNames[corrTicks.indexOf(v)], 5.5, "#555"));

  /* D */
  const dData = pathways.map((_, i) => ({ x: pathwayCluster[i], y: i + 1, r: pathwayCount[i] / 2 }));
  const dColors = pathwayLogP.map((v) => stops(gnbu, (v - 3.5) / 12.5));
  panels.push(mk("bubble", { l: 252, t: 250, r: 578, b: 556 }, { l: 480.7, t: 252.7, r: 576, b: 522.7 }, [
    { data: dData, backgroundColor: dColors, borderColor: dColors.map((c, i) => (pathwayLogP[i] > 14 ? "#aaa" : c)), borderWidth: 0.8 },
  ], {
    x: ax("bottom", { min: 0.43, max: 4.61, at: [1, 2, 3, 4], cb: (v: number) => cafNames[v - 1], rot: 38, fs: 13.5, tc: "#222", bc: "#888", bw: 0, tl: 3, pad: 2, gridOn: true, gridColor: "#ebebeb" }),
    y: ax("left", { min: 0.438, max: 15.6, rev: true, at: pathways.map((_, i) => i + 1), cb: (v: number) => pathways[v - 1], fs: 11.6, tc: "#222", bc: "#888", bw: 0, tl: 3, pad: 6, gridOn: true, gridColor: "#ebebeb" }),
  }, { color: "#a0a0a0", width: 1.5 }));
  (panels[panels.length - 1].cfg.options.scales.x.grid as any).tickColor = "#555";
  (panels[panels.length - 1].cfg.options.scales.y.grid as any).tickColor = "#555";
  /* D colour bar */
  const dEdges = Array.from({ length: 25 }, (_, i) => 3.5 + (i * 12.5) / 24);
  panels.push(colorBar({ l: 578, t: 350, r: 600, b: 402 }, { l: 581, t: 352.7, r: 589, b: 398.7 }, dEdges, dEdges.slice(0, 24).map((e) => stops(gnbu, (e - 3.5) / 12.5)), [4, 8, 12, 16], undefined, 5, "#555"));

  /* E */
  const vDs: any[] = [];
  violins.forEach((gene, g) => gene.forEach((profile, c) => {
    const base = 15 - g;
    const right = profile.map((p) => [c + 1 + p[1], base + p[0] * 0.97]);
    const left = profile.slice().reverse().map((p) => [c + 1 - p[1], base + p[0] * 0.97]);
    vDs.push({ data: xy([...right, ...left]), showLine: true, tension: 0.18, fill: "shape", backgroundColor: geneColors[g], borderColor: "#444", borderWidth: 0.8, pointRadius: 0 });
  }));
  const rowEdges = Array.from({ length: 17 }, (_, i) => i);
  const exprAt = exprTickPos.map((p, i) => 15 - i + p);
  panels.push(mk("scatter", { l: 625, t: 250, r: 863, b: 552 }, { l: 647.7, t: 255.7, r: 799, b: 520.3 }, vDs, {
    x: ax("bottom", { min: 0.377, max: 4.606, at: [1, 2, 3, 4], cb: (v: number) => cafNames[v - 1], rot: 28, fs: 14, tc: "#222", bc: "#777", bw: 0, tl: 3, pad: 2 }),
    y: (() => {
      const s = ax("left", { min: 0, max: 16, at: [...rowEdges, ...exprAt], cb: (v: number) => { const i = exprAt.indexOf(v); return i >= 0 ? exprTickNames[i] : ""; }, fs: 5.5, tc: "#555", bc: "#666", bw: 0, tl: 2, pad: 1, gridOn: true, title: "Expression Level", tfs: 9.5, ttc: "#555" });
      s.grid.color = (c: any) => (c.tick && Number.isInteger(c.tick.value) ? "#666" : "rgba(0,0,0,0)");
      return s;
    })(),
    g: ax("right", { min: 0, max: 16, at: genes.map((_, i) => 15.5 - i), cb: (v: number) => genes[Math.round(15.5 - v)], fs: 13.5, fw: "bold", tc: "#111", bw: 0, tl: 0, pad: 8 }),
  }, { color: "#bbb", width: 1 }));

  /* F */
  const fDs = [il6Pct, cxcl1Pct, il33Pct].map((pct, g) => {
    const lv = [il6Level, cxcl1Level, il33Level][g];
    return {
      data: pct.map((p, i) => ({ x: g + 1, y: i + 1, r: 0.7 + 0.36 * p })),
      backgroundColor: lv.map((v) => stops(["#b6b6b6", "#14b0a4"], v)),
      borderColor: "#62d2ca", borderWidth: 1,
    };
  });
  panels.push(mk("bubble", { l: 110, t: 584, r: 328, b: 842 }, { l: 160.3, t: 588, r: 324.3, b: 808 }, fDs, {
    x: ax("bottom", { min: 0.222, max: 3.46, at: [1, 2, 3], cb: (v: number) => fGenes[v - 1], fs: 15, fstyle: "italic", tc: "#111", bc: "#555", bw: 1.5, tl: 3, pad: 10 }),
    y: (() => {
      const s = ax("left", { min: 0.377, max: 8.586, rev: true, at: [1, 2, 3, 4, 5, 6, 7, 8], cb: (v: number) => fRows[v - 1], tc: "#222", bc: "#555", bw: 1.5, tl: 3, pad: 2 });
      s.ticks.font = (c: any) => ({ family: FONT, size: c.index % 2 ? 9.5 : 13, lineHeight: 1.25 });
      return s;
    })(),
  }));
  /* F size legend */
  panels.push(mk("bubble", { l: 340, t: 625, r: 425, b: 745 }, { l: 340, t: 625, r: 375, b: 745 }, [
    { data: pctLegend.map((p, i) => ({ x: 0, y: pctLegendRow[i], r: 0.7 + 0.36 * p })), backgroundColor: "rgba(0,0,0,0)", borderColor: "#45cbc3", borderWidth: 1 },
  ], {
    x: ax("bottom", { display: false, min: -19, max: 16, tl: 0 }),
    y: ax("right", { min: -11.7, max: 108.3, rev: true, at: pctLegendRow, cb: (v: number) => String(pctLegend[pctLegendRow.indexOf(v)]), fs: 13, tc: "#222", bw: 0, tl: 0, pad: 12 }),
  }));

  /* G */
  const gAxis = { bc: "#8a8a8a", bw: 1.5, tl: 3, tc: "#555", fs: 12, pad: 2 };
  const gDot = (a: P[], t: number) => dots(a, withAlpha(plasma(t), 0.8), 5.2);
  const hullLine = (a: P[]) => line(a, "#8c8c8c", 2.6, 0.35, [2.6, 3.6]);
  panels.push(mk("scatter", { l: 446, t: 570, r: 857, b: 864 }, { l: 485, t: 573.3, r: 855, b: 836.7 }, [
    { ...dots(trajectoryNodes, "#111", 4.5), borderWidth: 1.2, borderColor: "#ddd", texts: nodeNames, textFont: `bold 7px ${FONT}`, textColor: "#fff" },
    line(trajectoryA, "#000", 2.2), line(trajectoryB, "#000", 2.2, 0.15), line(trajectoryC, "#000", 2.2, 0.15),
    gDot(caf1Top, 0.9), gDot(caf1Right, 2), gDot(caf1Low, 3.7), gDot(caf1Arm, 6.3),
    gDot(caf2Upper, 10.2), gDot(caf2Mid, 13), gDot(caf2Lower, 12.8),
    gDot(caf3Bottom.slice(5, 6), 10), gDot(caf3Main, 14.4), gDot(caf3Bottom, 13),
    gDot(caf4Low, 16.6), gDot(caf4Sparse, 16.2), gDot(caf4Late, 18.6),
    hullLine(hullMyo), hullLine(hullAg), hullLine(hullSec), hullLine(hullMes),
  ], {
    x: ax("bottom", { ...gAxis, min: -6.42, max: 7.7, at: [-4, 0, 4], cb: (v: number) => (v < 0 ? "\u2212" + -v : String(v)) }),
    y: ax("left", { ...gAxis, min: -6.12, max: 5.96, at: [-6, -3, 0, 3], cb: (v: number) => (v < 0 ? "\u2212" + -v : String(v)), title: "UMAP_2", tfs: 15, ttc: "#222" }),
  }));
  /* G colour bar */
  const gEdges = Array.from({ length: 41 }, (_, i) => (i * 19.3) / 40);
  panels.push(colorBar({ l: 790, t: 578, r: 845, b: 676 }, { l: 792.7, t: 582.3, r: 812.3, b: 670 }, gEdges, gEdges.slice(0, 40).map((e) => plasma(e + 0.24)), [0, 5, 10, 15], undefined, 11.5, "#333"));

  /* H */
  panels.push(hPanel({ l: 41.7, t: 890, r: 227.3, b: 1012.3 }, -0.975, 19.13, 0.397, 63, [1, 3, 10, 30], [0, 5, 10, 15], cd34Curve, cd34Mes, cd34Sec, cd34Ag, cd34Myo));
  panels.push(hPanel({ l: 242.3, t: 888.3, r: 435, b: 1010 }, -0.92, 20.2, 0.38, 112, [1, 10, 100], [0, 5, 10, 15, 20], il6Curve, il6Mes, il6Sec, il6Ag, il6Myo));
  panels.push(hPanel({ l: 450.7, t: 892.7, r: 641.7, b: 1011.7 }, -0.94, 19.93, 0.36, 385, [1, 10, 100], [0, 5, 10, 15], cd74Curve, cd74Mes, cd74Sec, cd74Ag, cd74Myo));
  panels.push(hPanel({ l: 654, t: 894.3, r: 846.7, b: 1012.3 }, -0.9, 20.07, 0.41, 39, [1, 3, 10, 30], [0, 5, 10, 15, 20], tgfb1Curve, tgfb1Mes, tgfb1Sec, tgfb1Ag, tgfb1Myo));
  return panels;
}

/* ---------- page text: [text, x, y, size, weight, align, extras] ---------- */
type T = [string, number, number, number, string?, string?, any?];
const TEXTS: T[] = [
  ["A", 14, 12, 28, "bold"], ["B", 271, 12, 28, "bold"], ["C", 12, 258, 28, "bold"], ["D", 258, 259, 28, "bold"],
  ["E", 617, 255, 28, "bold"], ["F", 13, 582, 28, "bold"], ["G", 432, 585, 28, "bold"], ["H", 12, 862, 28, "bold"],
  ["CAF4", 98, 34, 14, "bold"], ["CAF1", 209, 103.7, 14, "bold"], ["CAF3", 67, 116.7, 14, "bold"], ["CAF2", 80, 183.3, 14, "bold"],
  ["CAF4", 350, 47.7, 14, "bold"], ["CAF3", 322.7, 117.3, 14, "bold"], ["CAF2", 337.3, 189.7, 14, "bold"], ["CAF1", 442, 120, 14, "bold"],
  ["CAF4", 506, 47.7, 14, "bold"], ["CAF3", 500.7, 119, 14, "bold"], ["CAF1", 615.3, 115.7, 14, "bold"], ["CAF2", 506.7, 189.3, 14, "bold"],
  ["UMAP_1", 450, 234, 14, "normal", "center", { color: "#333" }],
  ["CAF4", 703.3, 56.7, 14, "bold"], ["CAF1", 829, 61.3, 14, "bold"], ["CAF3", 707.3, 171.3, 14, "bold"], ["CAF2", 833.7, 170.7, 14, "bold"],
  ["Vehicle", 691.7, 11.5, 14, "bold", "left"], ["MEKi+STAT3i", 770.7, 11.5, 14, "bold", "left"],
  ["log(padj)", 590, 348, 5.5, "normal", "center", { color: "#555" }],
  ["pct.exp", 364, 615, 13.5],
  ["Myofibroblastic CAF", 652.3, 579.3, 14.2, "bold"],
  ["Ag presenting", 487.7, 686.7, 12.5, "bold", "left"], ["CAF", 487.7, 701.7, 12.5, "bold", "left"],
  ["Secretory/", 487.7, 807.7, 14, "bold", "left"], ["Inflammatory CAF", 487.7, 825.7, 14, "bold", "left"],
  ["Mesenchymal", 706, 797.7, 14, "bold", "left"], ["progenitor CAF", 706, 815.7, 14, "bold", "left"],
  ["pseudotime", 824, 571.7, 12.5],
  ["UMAP_1", 657.7, 856.7, 15],
  ["Cd34", 140, 878, 17, "bold", "center", { fontStyle: "italic" }], ["Il6", 343, 878, 17, "bold", "center", { fontStyle: "italic" }],
  ["Cd74", 542.7, 880, 17, "bold", "center", { fontStyle: "italic" }], ["Tgfb1", 745, 880, 17, "bold", "center", { fontStyle: "italic" }],
  ["Expression level", 14, 948, 14.5, "normal", "center", { rotate: true, color: "#222" }],
  ["Mesenchymal progenitor CAF", 59.3, 1041.7, 14.7, "normal", "left", { color: "#222" }],
  ["Secretory/inflammatory CAF", 293, 1041.7, 14.7, "normal", "left", { color: "#222" }],
  ["Ag presenting CAF", 519, 1041.7, 14.7, "normal", "left", { color: "#222" }],
  ["Myofibroblastic CAF", 688.7, 1041.7, 14.7, "normal", "left", { color: "#222" }],
];
const BOXES: [string, number, number, number, number, number][] = [
  ["Vehicle", 326, 0, 422.7, 28, 15], ["MEKi+STAT3i", 475, 0, 620.7, 28, 15],
  ["CAF4", 41, 605, 100, 634.7, 13], ["CAF3", 41.5, 656, 101, 685.7, 13], ["CAF2", 41.5, 713.7, 101, 743, 13], ["CAF1", 41, 769.3, 101, 799.3, 13],
];
const BRACKETS: [number, number][] = [[602.7, 640], [656.7, 693.3], [710, 747], [766, 802.7]];
const DOTS: [number, number, number, string][] = [
  [679, 11.5, 6.5, "#707070"], [757.3, 11.5, 6.5, "#7fffd4"],
  [46, 1041.7, 3.5, C1], [279, 1041.7, 3.5, C2], [510, 1041.7, 3.5, C3], [678, 1041.7, 3.5, C4],
];

const panelRects = buildPanels().map((p) => p.rect as R);

export default function App() {
  const refs = useRef<(HTMLCanvasElement | null)[]>([]);
  useEffect(() => {
    const list = buildPanels();
    const charts = list.map((p, i) => new Chart(refs.current[i] as any, p.cfg as any));
    return () => charts.forEach((c) => c.destroy());
  }, []);
  return (
    <div style={{ position: "absolute", left: 0, top: 0, width: 863, height: 1050, overflow: "hidden", background: "#fff", fontFamily: FONT, color: "#111", filter: "blur(0.35px)" }}>
      {BOXES.map(([s, l, t, r, b, fs], i) => (
        <div key={"b" + i} style={{ position: "absolute", left: l, top: t, width: r - l, height: b - t, background: "#cacaca", display: "flex", alignItems: "center", justifyContent: "center", fontWeight: "bold", fontSize: fs, color: "#111" }}>{s}</div>
      ))}
      {BRACKETS.map(([t, b], i) => (
        <div key={"k" + i} style={{ position: "absolute", left: 105, top: t, width: 5, height: b - t, borderLeft: "1.5px solid #333", borderTop: "1.5px solid #333", borderBottom: "1.5px solid #333", boxSizing: "border-box" }} />
      ))}
      {panelRects.map((r, i) => (
        <canvas key={i} ref={(el) => { refs.current[i] = el; }} width={Math.round(r.r - r.l)} height={Math.round(r.b - r.t)} style={{ position: "absolute", left: Math.round(r.l), top: Math.round(r.t), display: "block" }} />
      ))}
      {DOTS.map(([x, y, r, c], i) => (
        <div key={"d" + i} style={{ position: "absolute", left: x - r, top: y - r, width: 2 * r, height: 2 * r, borderRadius: "50%", background: c }} />
      ))}
      {TEXTS.map(([s, x, y, fs, w, align, e], i) => {
        const tx = align === "left" ? "translate(0,-50%)" : "translate(-50%,-50%)";
        return (
          <div key={"t" + i} style={{ position: "absolute", left: x, top: y, fontSize: fs, fontWeight: (w as any) || "normal", fontStyle: e?.fontStyle, color: e?.color || "#111", lineHeight: 1, whiteSpace: "nowrap", transform: tx + (e?.rotate ? " rotate(-90deg)" : "") }}>{s}</div>
        );
      })}
    </div>
  );
}
